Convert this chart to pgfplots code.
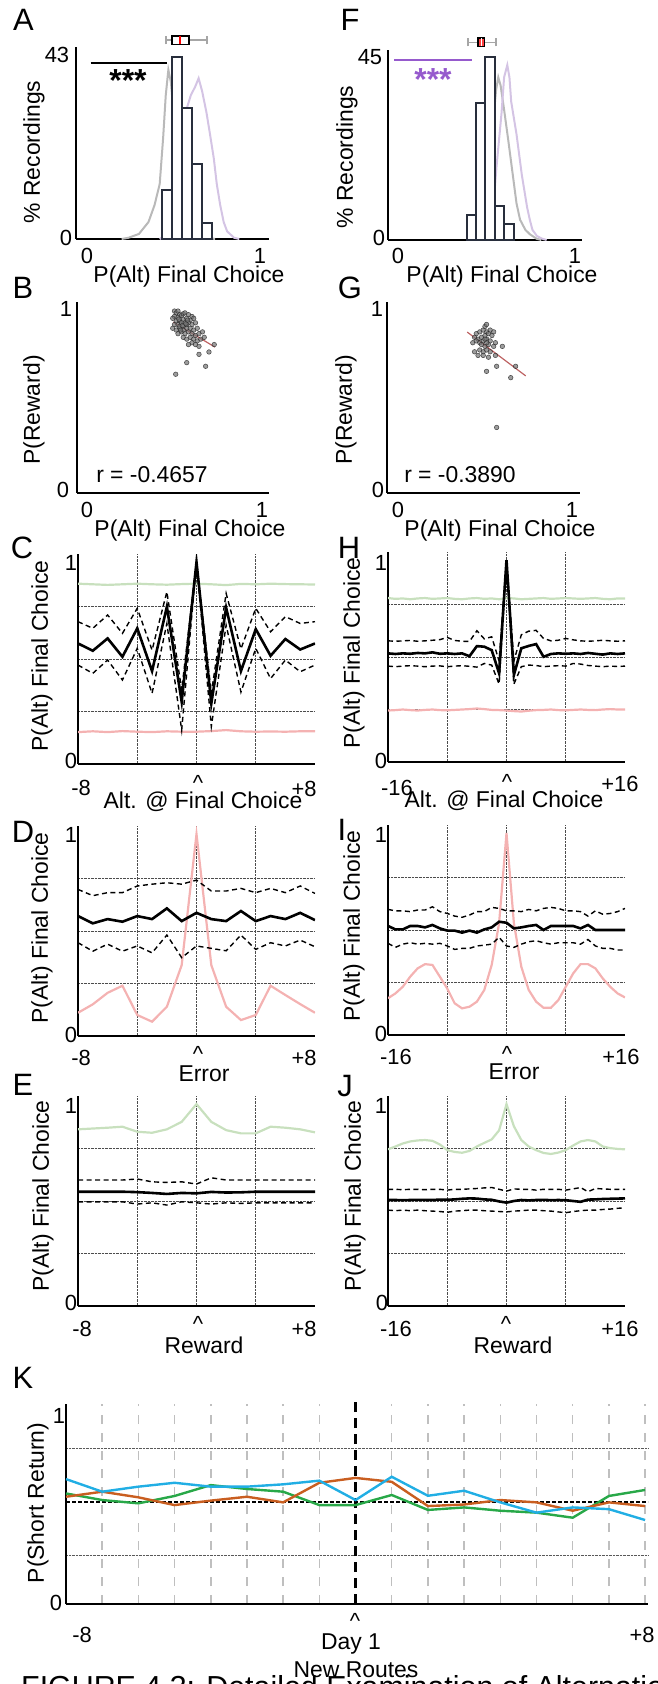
\documentclass[border=0pt]{standalone}
\usepackage{pgfplots}
\pgfplotsset{compat=1.18}
\usepgfplotslibrary{statistics}
\usepackage{fontspec}
\setmainfont{Liberation Sans}
\definecolor{baredge}{RGB}{40,46,60}
\definecolor{gcurve}{RGB}{185,185,185}
\definecolor{pcurve}{RGB}{212,196,228}
\definecolor{pstar}{RGB}{150,90,205}
\definecolor{ppink}{RGB}{244,178,178}
\definecolor{pgreen}{RGB}{200,224,190}
\definecolor{kblue}{RGB}{33,174,228}
\definecolor{korange}{RGB}{201,94,32}
\definecolor{kgreen}{RGB}{40,168,72}
\definecolor{regred}{RGB}{190,100,100}
\newcommand\tk{\fontsize{22}{24}\selectfont}
\newcommand\lb{\fontsize{23}{26}\selectfont}
\newcommand\pl{\fontsize{31}{34}\selectfont}
\pgfplotsset{
  panel/.style={scale only axis, anchor=south west, axis x line*=bottom, axis y line*=left,
    axis line style={line width=2.5bp, black}, major tick length=0pt,
    xticklabel={\relax}, yticklabel={\relax}},
  lineaxis/.style={panel, width=237bp, height=210bp, ymin=0, ymax=1.04,
    ytick={0.26,0.52,0.78}, grid=major,
    major grid style={black!70, densely dotted, line width=0.8bp}},
  dsh/.style={black, dash pattern=on 5bp off 3.5bp, line width=1.4bp},
  blk/.style={black, line width=2.6bp},
  pale/.style={line width=2.2bp},
  sc/.style={only marks, mark=*, mark size=2.3bp, mark options={fill=black!55, draw=black!85, fill opacity=0.7, draw opacity=0.8, line width=0.5bp}},
}
\begin{document}
\begin{tikzpicture}
\path[use as bounding box] (0,0) rectangle (658bp,-1684bp);

% ---------------- A ----------------
\begin{axis}[panel, at={(76bp,-239bp)}, width=193bp, height=192bp,
  xmin=-0.064, xmax=1.052, ymin=0, ymax=45.4, xtick=\empty, ytick=\empty, clip=false]
\addplot[gcurve, line width=2bp] coordinates {(0.20,0) (0.24,0.3) (0.30,1.2) (0.355,4) (0.39,8) (0.42,13) (0.44,24) (0.455,34) (0.47,40) (0.485,37) (0.50,30) (0.52,22) (0.54,15) (0.56,10) (0.58,6) (0.60,4) (0.63,2) (0.66,1) (0.70,0.3) (0.74,0)};
\addplot[pcurve, line width=2bp] coordinates {(0.42,0) (0.44,0.5) (0.48,3) (0.51,11) (0.54,21) (0.57,30) (0.60,34) (0.625,36) (0.645,38) (0.665,35) (0.69,30) (0.71,25) (0.733,19) (0.75,13) (0.77,8) (0.79,4) (0.81,1.8) (0.85,0.3) (0.88,0)};
\addplot[ybar interval, draw=baredge, fill=white, line width=2bp] coordinates {(0.435,11.6) (0.492,43) (0.549,31) (0.607,17.7) (0.664,3.8) (0.721,3.8)};
\addplot[black, line width=2bp] coordinates {(0.02,41.6) (0.46,41.6)};
\addplot[boxplot prepared={draw direction=x, draw position=47, lower whisker=0.457, lower quartile=0.49, median=0.54, upper quartile=0.59, upper whisker=0.694, box extend=2, whisker extend=2},
  boxplot/every box/.style={draw=black, fill=white, line width=1.8bp},
  boxplot/every whisker/.style={gray!70, line width=1.5bp},
  boxplot/every median/.style={red, line width=2bp}] coordinates {};
\end{axis}

% ---------------- F ----------------
\begin{axis}[panel, at={(388bp,-240bp)}, width=194bp, height=190bp,
  xmin=-0.056, xmax=1.04, ymin=0, ymax=46.7, xtick=\empty, ytick=\empty, clip=false]
\addplot[gcurve, line width=2bp] coordinates {(0.42,0) (0.444,0.5) (0.48,3) (0.50,8) (0.52,18) (0.54,30) (0.555,37) (0.567,40) (0.58,38) (0.60,32) (0.625,24) (0.652,15) (0.67,9) (0.69,5) (0.72,2.5) (0.746,1.4) (0.784,0.3) (0.81,0)};
\addplot[pcurve, line width=2bp] coordinates {(0.49,0) (0.51,0.5) (0.535,6) (0.557,18) (0.585,31) (0.60,40) (0.618,43) (0.63,40) (0.64,34) (0.655,30) (0.67,26) (0.685,21) (0.70,16) (0.715,12) (0.73,8) (0.745,5) (0.76,2.5) (0.785,1) (0.81,0.4) (0.84,0)};
\addplot[ybar interval, draw=baredge, fill=white, line width=2bp] coordinates {(0.388,6.1) (0.441,33.6) (0.494,45) (0.548,8.4) (0.601,3.9) (0.655,3.9)};
\addplot[pstar, line width=2bp] coordinates {(-0.02,44.2) (0.42,44.2)};
\addplot[boxplot prepared={draw direction=x, draw position=48.6, lower whisker=0.395, lower quartile=0.452, median=0.47, upper quartile=0.49, upper whisker=0.554, box extend=2, whisker extend=2},
  boxplot/every box/.style={draw=black, fill=red!75, line width=1.6bp},
  boxplot/every whisker/.style={gray!70, line width=1.5bp},
  boxplot/every median/.style={white, line width=0.8bp}] coordinates {};
\end{axis}

% ---------------- B ----------------
\begin{axis}[panel, at={(77bp,-493bp)}, width=192bp, height=191bp,
  xmin=-0.057, xmax=1.04, ymin=-0.02, ymax=1.035, xtick=\empty, ytick=\empty]
\addplot[sc] coordinates {(0.50,0.985) (0.51,0.975) (0.52,0.985) (0.53,0.965) (0.50,0.955) (0.49,0.945) (0.52,0.95) (0.54,0.96) (0.55,0.97) (0.56,0.975) (0.58,0.965) (0.60,0.955) (0.51,0.93) (0.53,0.93) (0.55,0.94) (0.57,0.945) (0.59,0.935) (0.61,0.945) (0.50,0.91) (0.52,0.91) (0.54,0.92) (0.56,0.92) (0.58,0.92) (0.60,0.91) (0.62,0.92) (0.49,0.89) (0.51,0.88) (0.53,0.89) (0.55,0.90) (0.57,0.89) (0.59,0.89) (0.61,0.88) (0.63,0.89) (0.52,0.86) (0.54,0.87) (0.56,0.86) (0.58,0.87) (0.60,0.86) (0.62,0.85) (0.64,0.86) (0.66,0.87) (0.55,0.84) (0.57,0.83) (0.59,0.84) (0.61,0.83) (0.63,0.82) (0.65,0.83) (0.67,0.84) (0.60,0.81) (0.62,0.80) (0.58,0.80) (0.64,0.79) (0.53,0.90) (0.57,0.91) (0.55,0.88) (0.535,0.88) (0.545,0.905) (0.565,0.915) (0.525,0.94) (0.575,0.935) (0.507,0.636) (0.57,0.70) (0.678,0.68) (0.64,0.746) (0.697,0.759) (0.727,0.80)};
\addplot[regred, line width=1.2bp] coordinates {(0.493,0.924) (0.731,0.786)};
\end{axis}

% ---------------- G ----------------
\begin{axis}[panel, at={(387bp,-493bp)}, width=193bp, height=191bp,
  xmin=-0.063, xmax=1.046, ymin=-0.02, ymax=1.035, xtick=\empty, ytick=\empty]
\addplot[sc] coordinates {(0.45,0.86) (0.47,0.87) (0.49,0.88) (0.51,0.87) (0.53,0.88) (0.55,0.87) (0.44,0.84) (0.46,0.83) (0.48,0.84) (0.50,0.85) (0.52,0.86) (0.54,0.85) (0.43,0.81) (0.45,0.82) (0.47,0.81) (0.49,0.82) (0.51,0.83) (0.53,0.82) (0.56,0.81) (0.48,0.80) (0.50,0.79) (0.52,0.80) (0.55,0.79) (0.60,0.79) (0.44,0.76) (0.47,0.77) (0.49,0.76) (0.51,0.77) (0.53,0.76) (0.46,0.74) (0.49,0.74) (0.52,0.73) (0.56,0.74) (0.50,0.90) (0.51,0.81) (0.50,0.83) (0.567,0.342) (0.648,0.617) (0.676,0.68) (0.509,0.652) (0.567,0.68) (0.509,0.911)};
\addplot[regred, line width=1.2bp] coordinates {(0.398,0.869) (0.734,0.627)};
\end{axis}

% ---------------- C ----------------
\begin{axis}[lineaxis, at={(78bp,-764bp)}, xmin=-8, xmax=8, xtick={-4,0,4}]
\addplot[pgreen, pale] coordinates {(-8,0.893) (-7,0.89) (-6,0.887) (-5,0.89) (-4,0.893) (-3,0.89) (-2,0.888) (-1,0.891) (0,0.893) (1,0.89) (2,0.886) (3,0.892) (4,0.89) (5,0.893) (6,0.891) (7,0.89) (8,0.889)};
\addplot[ppink, pale] coordinates {(-8,0.158) (-7,0.162) (-6,0.158) (-5,0.163) (-4,0.16) (-3,0.158) (-2,0.162) (-1,0.16) (0,0.16) (1,0.163) (2,0.168) (3,0.162) (4,0.16) (5,0.161) (6,0.16) (7,0.162) (8,0.162)};
\addplot[dsh] coordinates {(-8,0.705) (-7,0.672) (-6,0.738) (-5,0.647) (-4,0.771) (-3,0.564) (-2,0.853) (-1,0.366) (0,1) (1,0.35) (2,0.845) (3,0.57) (4,0.771) (5,0.655) (6,0.73) (7,0.696) (8,0.705)};
\addplot[dsh] coordinates {(-8,0.49) (-7,0.449) (-6,0.515) (-5,0.416) (-4,0.573) (-3,0.35) (-2,0.696) (-1,0.168) (0,1) (1,0.185) (2,0.688) (3,0.356) (4,0.573) (5,0.423) (6,0.515) (7,0.457) (8,0.49)};
\addplot[blk] coordinates {(-8,0.597) (-7,0.561) (-6,0.622) (-5,0.531) (-4,0.672) (-3,0.46) (-2,0.779) (-1,0.308) (0,1) (1,0.30) (2,0.774) (3,0.46) (4,0.668) (5,0.536) (6,0.619) (7,0.567) (8,0.597)};
\end{axis}

% ---------------- H ----------------
\begin{axis}[lineaxis, at={(388bp,-762bp)}, xmin=-16, xmax=16, xtick={-8,0,8}]
\addplot[pgreen, pale] coordinates {(-16,0.812) (-15,0.808) (-14,0.81) (-13,0.806) (-12,0.81) (-11,0.812) (-10,0.808) (-9,0.81) (-8,0.812) (-7,0.808) (-6,0.806) (-5,0.81) (-4,0.812) (-3,0.808) (-2,0.81) (-1,0.806) (0,0.812) (1,0.81) (2,0.806) (3,0.808) (4,0.81) (5,0.812) (6,0.808) (7,0.81) (8,0.812) (9,0.81) (10,0.808) (11,0.81) (12,0.812) (13,0.808) (14,0.806) (15,0.81) (16,0.81)};
\addplot[ppink, pale] coordinates {(-16,0.255) (-15,0.257) (-14,0.26) (-13,0.257) (-12,0.255) (-11,0.258) (-10,0.26) (-9,0.257) (-8,0.256) (-7,0.258) (-6,0.26) (-5,0.262) (-4,0.265) (-3,0.262) (-2,0.258) (-1,0.257) (0,0.255) (1,0.252) (2,0.25) (3,0.254) (4,0.257) (5,0.258) (6,0.26) (7,0.257) (8,0.256) (9,0.258) (10,0.26) (11,0.258) (12,0.257) (13,0.26) (14,0.262) (15,0.26) (16,0.26)};
\addplot[dsh] coordinates {(-16,0.6) (-15,0.598) (-14,0.6) (-13,0.602) (-12,0.598) (-11,0.6) (-10,0.603) (-9,0.606) (-8,0.617) (-7,0.602) (-6,0.598) (-5,0.597) (-4,0.65) (-3,0.61) (-2,0.62) (-1,0.5) (0,1) (1,0.5) (2,0.63) (3,0.648) (4,0.652) (5,0.612) (6,0.6) (7,0.603) (8,0.612) (9,0.605) (10,0.6) (11,0.598) (12,0.6) (13,0.603) (14,0.6) (15,0.598) (16,0.6)};
\addplot[dsh] coordinates {(-16,0.475) (-15,0.472) (-14,0.475) (-13,0.477) (-12,0.475) (-11,0.472) (-10,0.475) (-9,0.476) (-8,0.472) (-7,0.475) (-6,0.477) (-5,0.474) (-4,0.47) (-3,0.488) (-2,0.48) (-1,0.386) (0,1) (1,0.386) (2,0.472) (3,0.48) (4,0.478) (5,0.472) (6,0.475) (7,0.477) (8,0.475) (9,0.488) (10,0.485) (11,0.478) (12,0.475) (13,0.472) (14,0.475) (15,0.473) (16,0.475)};
\addplot[blk] coordinates {(-16,0.538) (-15,0.535) (-14,0.538) (-13,0.536) (-12,0.54) (-11,0.538) (-10,0.543) (-9,0.536) (-8,0.538) (-7,0.535) (-6,0.538) (-5,0.524) (-4,0.574) (-3,0.571) (-2,0.554) (-1,0.439) (0,1) (1,0.431) (2,0.563) (3,0.575) (4,0.584) (5,0.521) (6,0.535) (7,0.538) (8,0.536) (9,0.538) (10,0.535) (11,0.54) (12,0.536) (13,0.532) (14,0.538) (15,0.535) (16,0.538)};
\end{axis}

% ---------------- D ----------------
\begin{axis}[lineaxis, at={(78bp,-1036bp)}, xmin=-8, xmax=8, xtick={-4,0,4}]
\addplot[ppink, pale] coordinates {(-8,0.115) (-7,0.157) (-6,0.214) (-5,0.249) (-4,0.104) (-3,0.071) (-2,0.145) (-1,0.351) (0,1) (1,0.351) (2,0.145) (3,0.079) (4,0.104) (5,0.249) (6,0.203) (7,0.158) (8,0.115)};
\addplot[dsh] coordinates {(-8,0.726) (-7,0.695) (-6,0.71) (-5,0.71) (-4,0.743) (-3,0.752) (-2,0.759) (-1,0.752) (0,0.772) (1,0.718) (2,0.718) (3,0.731) (4,0.71) (5,0.731) (6,0.71) (7,0.743) (8,0.706)};
\addplot[dsh] coordinates {(-8,0.462) (-7,0.42) (-6,0.455) (-5,0.42) (-4,0.446) (-3,0.412) (-2,0.5) (-1,0.388) (0,0.446) (1,0.434) (2,0.422) (3,0.5) (4,0.429) (5,0.462) (6,0.446) (7,0.475) (8,0.442)};
\addplot[blk] coordinates {(-8,0.594) (-7,0.558) (-6,0.579) (-5,0.566) (-4,0.594) (-3,0.579) (-2,0.632) (-1,0.569) (0,0.61) (1,0.579) (2,0.569) (3,0.619) (4,0.569) (5,0.594) (6,0.579) (7,0.61) (8,0.574)};
\end{axis}

% ---------------- I ----------------
\begin{axis}[lineaxis, at={(388bp,-1035bp)}, xmin=-16, xmax=16, xtick={-8,0,8}]
\addplot[ppink, pale] coordinates {(-16,0.182) (-15,0.206) (-14,0.239) (-13,0.289) (-12,0.33) (-11,0.351) (-10,0.347) (-9,0.289) (-8,0.23) (-7,0.157) (-6,0.132) (-5,0.14) (-4,0.165) (-3,0.223) (-2,0.347) (-1,0.553) (0,1) (1,0.553) (2,0.338) (3,0.223) (4,0.165) (5,0.135) (6,0.135) (7,0.173) (8,0.239) (9,0.305) (10,0.351) (11,0.351) (12,0.33) (13,0.28) (14,0.239) (15,0.206) (16,0.186)};
\addplot[dsh] coordinates {(-16,0.622) (-15,0.615) (-14,0.615) (-13,0.611) (-12,0.619) (-11,0.619) (-10,0.635) (-9,0.611) (-8,0.602) (-7,0.589) (-6,0.583) (-5,0.594) (-4,0.611) (-3,0.611) (-2,0.632) (-1,0.627) (0,0.615) (1,0.615) (2,0.611) (3,0.622) (4,0.615) (5,0.627) (6,0.632) (7,0.627) (8,0.615) (9,0.615) (10,0.611) (11,0.589) (12,0.615) (13,0.598) (14,0.602) (15,0.611) (16,0.627)};
\addplot[dsh] coordinates {(-16,0.454) (-15,0.434) (-14,0.45) (-13,0.457) (-12,0.45) (-11,0.454) (-10,0.45) (-9,0.454) (-8,0.441) (-7,0.424) (-6,0.429) (-5,0.429) (-4,0.441) (-3,0.445) (-2,0.45) (-1,0.484) (0,0.441) (1,0.434) (2,0.45) (3,0.462) (4,0.467) (5,0.457) (6,0.45) (7,0.457) (8,0.457) (9,0.457) (10,0.45) (11,0.473) (12,0.441) (13,0.429) (14,0.429) (15,0.421) (16,0.421)};
\addplot[blk] coordinates {(-16,0.54) (-15,0.523) (-14,0.523) (-13,0.54) (-12,0.54) (-11,0.533) (-10,0.545) (-9,0.528) (-8,0.517) (-7,0.517) (-6,0.507) (-5,0.517) (-4,0.507) (-3,0.523) (-2,0.533) (-1,0.561) (0,0.556) (1,0.528) (2,0.533) (3,0.54) (4,0.545) (5,0.52) (6,0.54) (7,0.54) (8,0.54) (9,0.54) (10,0.528) (11,0.545) (12,0.52) (13,0.52) (14,0.52) (15,0.52) (16,0.52)};
\end{axis}

% ---------------- E ----------------
\begin{axis}[lineaxis, at={(78bp,-1306bp)}, xmin=-8, xmax=8, xtick={-4,0,4}]
\addplot[pgreen, pale] coordinates {(-8,0.875) (-7,0.879) (-6,0.883) (-5,0.888) (-4,0.863) (-3,0.858) (-2,0.875) (-1,0.912) (0,1) (1,0.912) (2,0.871) (3,0.855) (4,0.855) (5,0.888) (6,0.883) (7,0.875) (8,0.86)};
\addplot[dsh] coordinates {(-8,0.624) (-7,0.624) (-6,0.624) (-5,0.624) (-4,0.629) (-3,0.615) (-2,0.612) (-1,0.615) (0,0.604) (1,0.635) (2,0.624) (3,0.624) (4,0.624) (5,0.624) (6,0.624) (7,0.624) (8,0.624)};
\addplot[dsh] coordinates {(-8,0.516) (-7,0.516) (-6,0.516) (-5,0.516) (-4,0.505) (-3,0.511) (-2,0.5) (-1,0.516) (0,0.511) (1,0.505) (2,0.511) (3,0.508) (4,0.511) (5,0.511) (6,0.511) (7,0.511) (8,0.511)};
\addplot[blk] coordinates {(-8,0.566) (-7,0.566) (-6,0.566) (-5,0.566) (-4,0.564) (-3,0.56) (-2,0.555) (-1,0.56) (0,0.558) (1,0.565) (2,0.562) (3,0.563) (4,0.566) (5,0.566) (6,0.566) (7,0.566) (8,0.566)};
\end{axis}

% ---------------- J ----------------
\begin{axis}[lineaxis, at={(388bp,-1306bp)}, xmin=-16, xmax=16, xtick={-8,0,8}]
\addplot[pgreen, pale] coordinates {(-16,0.776) (-15,0.79) (-14,0.805) (-13,0.815) (-12,0.82) (-11,0.822) (-10,0.818) (-9,0.80) (-8,0.772) (-7,0.763) (-6,0.759) (-5,0.768) (-4,0.79) (-3,0.808) (-2,0.825) (-1,0.87) (0,1) (1,0.89) (2,0.822) (3,0.79) (4,0.772) (5,0.758) (6,0.753) (7,0.76) (8,0.772) (9,0.795) (10,0.815) (11,0.822) (12,0.815) (13,0.79) (14,0.782) (15,0.778) (16,0.776)};
\addplot[dsh] coordinates {(-16,0.578) (-15,0.578) (-14,0.576) (-13,0.578) (-12,0.578) (-11,0.576) (-10,0.578) (-9,0.578) (-8,0.574) (-7,0.578) (-6,0.578) (-5,0.58) (-4,0.582) (-3,0.585) (-2,0.587) (-1,0.578) (0,0.569) (1,0.58) (2,0.578) (3,0.578) (4,0.574) (5,0.578) (6,0.578) (7,0.578) (8,0.574) (9,0.58) (10,0.587) (11,0.566) (12,0.582) (13,0.58) (14,0.578) (15,0.578) (16,0.578)};
\addplot[dsh] coordinates {(-16,0.475) (-15,0.472) (-14,0.475) (-13,0.472) (-12,0.475) (-11,0.472) (-10,0.47) (-9,0.468) (-8,0.464) (-7,0.47) (-6,0.472) (-5,0.475) (-4,0.475) (-3,0.472) (-2,0.47) (-1,0.468) (0,0.466) (1,0.47) (2,0.472) (3,0.475) (4,0.475) (5,0.472) (6,0.47) (7,0.466) (8,0.462) (9,0.468) (10,0.472) (11,0.475) (12,0.475) (13,0.478) (14,0.48) (15,0.484) (16,0.486)};
\addplot[blk] coordinates {(-16,0.525) (-15,0.525) (-14,0.524) (-13,0.525) (-12,0.526) (-11,0.525) (-10,0.525) (-9,0.527) (-8,0.526) (-7,0.528) (-6,0.531) (-5,0.533) (-4,0.532) (-3,0.528) (-2,0.526) (-1,0.518) (0,0.512) (1,0.52) (2,0.525) (3,0.523) (4,0.525) (5,0.526) (6,0.524) (7,0.525) (8,0.524) (9,0.52) (10,0.516) (11,0.527) (12,0.528) (13,0.53) (14,0.531) (15,0.532) (16,0.533)};
\end{axis}

% ---------------- K ----------------
\begin{axis}[panel, at={(66bp,-1604bp)}, width=582bp, height=200bp,
  xmin=-8, xmax=8.08, ymin=0, ymax=1.031, clip=false,
  xtick={-7,-6,-5,-4,-3,-2,-1,1,2,3,4,5,6,7,8}, ytick={0.25,0.8}, grid=major,
  x grid style={gray!50, dash pattern=on 9bp off 9bp, line width=1.5bp},
  y grid style={black!65, densely dotted, line width=0.8bp}]
\addplot[black, dash pattern=on 10bp off 6bp, line width=2.2bp] coordinates {(0,0) (0,1.06)};
\addplot[black, dash pattern=on 3.5bp off 2.5bp, line width=1.2bp] coordinates {(-8,0.526) (8.08,0.526)};
\addplot[kgreen, line width=2.4bp] coordinates {(-8,0.57) (-7,0.536) (-6,0.519) (-5,0.557) (-4,0.613) (-3,0.593) (-2,0.579) (-1,0.51) (0,0.51) (1,0.562) (2,0.485) (3,0.498) (4,0.481) (5,0.471) (6,0.445) (7,0.557) (8,0.588)};
\addplot[korange, line width=2.4bp] coordinates {(-8,0.553) (-7,0.579) (-6,0.55) (-5,0.51) (-4,0.533) (-3,0.553) (-2,0.524) (-1,0.625) (0,0.65) (1,0.63) (2,0.505) (3,0.513) (4,0.536) (5,0.524) (6,0.481) (7,0.524) (8,0.505)};
\addplot[kblue, line width=2.4bp] coordinates {(-8,0.644) (-7,0.579) (-6,0.605) (-5,0.625) (-4,0.605) (-3,0.605) (-2,0.617) (-1,0.636) (0,0.536) (1,0.656) (2,0.558) (3,0.584) (4,0.524) (5,0.471) (6,0.498) (7,0.489) (8,0.433)};
\end{axis}

% ---------------- text ----------------
\begin{scope}[x=1bp, y=-1bp, every node/.style={inner sep=0pt}]
\tikzset{tkn/.style={anchor=base, font=\tk}, lbn/.style={anchor=base, font=\lb},
  yln/.style={anchor=center, rotate=90, font=\lb}, pln/.style={anchor=base, font=\pl}}
% panel letters
\node[pln] at (23.5,30) {A}; \node[pln] at (350,30) {F};
\node[pln] at (23,298) {B}; \node[pln] at (350,298) {G};
\node[pln] at (22,558) {C}; \node[pln] at (349,558) {H};
\node[pln] at (23,842) {D}; \node[pln] at (342,840) {I};
\node[pln] at (23,1095) {E}; \node[pln] at (345,1096) {J};
\node[pln] at (23,1388) {K};
% A
\node[tkn] at (57,62) {43}; \node[tkn] at (66,245) {0};
\node[tkn] at (87,263) {0}; \node[tkn] at (260,263) {1};
\node[lbn] at (189,282) {P(Alt) Final Choice};
\node[yln] at (34,152) {\% Recordings};
\node[anchor=base, font=\fontsize{32}{34}\selectfont\bfseries] at (128,91) {***};
% F
\node[tkn] at (370,64) {45}; \node[tkn] at (379,245) {0};
\node[tkn] at (398,263) {0}; \node[tkn] at (575,263) {1};
\node[lbn] at (502,282) {P(Alt) Final Choice};
\node[yln] at (347,157) {\% Recordings};
\node[anchor=base, font=\fontsize{32}{34}\selectfont\bfseries, text=pstar] at (433,90) {***};
% B
\node[tkn] at (66,316) {1}; \node[tkn] at (63,497) {0};
\node[tkn] at (87,517) {0}; \node[tkn] at (262,517) {1};
\node[lbn] at (190,536) {P(Alt) Final Choice};
\node[yln] at (34,410) {P(Reward)};
\node[lbn] at (152,482) {r = -0.4657};
% G
\node[tkn] at (377,316) {1}; \node[tkn] at (378,497) {0};
\node[tkn] at (398,517) {0}; \node[tkn] at (572,517) {1};
\node[lbn] at (500,536) {P(Alt) Final Choice};
\node[yln] at (346,410) {P(Reward)};
\node[lbn] at (460,482) {r = -0.3890};
% C
\node[tkn] at (71,570) {1}; \node[tkn] at (71,768) {0};
\node[tkn] at (81,795) {-8}; \node[tkn] at (198,790) {\char`\^}; \node[tkn] at (304,796) {+8};
\node[lbn] at (203,808) {Alt. @ Final Choice};
\node[yln] at (42,656) {P(Alt) Final Choice};
% H
\node[tkn] at (381,570) {1}; \node[tkn] at (381,768) {0};
\node[tkn] at (397,795) {-16}; \node[tkn] at (507,789) {\char`\^}; \node[tkn] at (620,791) {+16};
\node[lbn] at (504,807) {Alt. @ Final Choice};
\node[yln] at (354,653) {P(Alt) Final Choice};
% D
\node[tkn] at (71,842) {1}; \node[tkn] at (71,1042) {0};
\node[tkn] at (81,1065) {-8}; \node[tkn] at (198,1061) {\char`\^}; \node[tkn] at (304,1065) {+8};
\node[lbn] at (204,1081) {Error};
\node[yln] at (42,928) {P(Alt) Final Choice};
% I
\node[tkn] at (381,842) {1}; \node[tkn] at (381,1041) {0};
\node[tkn] at (396,1064) {-16}; \node[tkn] at (507,1061) {\char`\^}; \node[tkn] at (621,1064) {+16};
\node[lbn] at (514,1079) {Error};
\node[yln] at (354,926) {P(Alt) Final Choice};
% E
\node[tkn] at (71,1113) {1}; \node[tkn] at (71,1310) {0};
\node[tkn] at (82,1336) {-8}; \node[tkn] at (198,1331) {\char`\^}; \node[tkn] at (304,1336) {+8};
\node[lbn] at (204,1353) {Reward};
\node[yln] at (43,1196) {P(Alt) Final Choice};
% J
\node[tkn] at (381,1113) {1}; \node[tkn] at (382,1310) {0};
\node[tkn] at (396,1336) {-16}; \node[tkn] at (506,1331) {\char`\^}; \node[tkn] at (620,1336) {+16};
\node[lbn] at (513,1353) {Reward};
\node[yln] at (355,1196) {P(Alt) Final Choice};
% K
\node[tkn] at (59,1423) {1}; \node[tkn] at (56,1610) {0};
\node[tkn] at (82,1642) {-8}; \node[tkn] at (355,1628) {\char`\^}; \node[tkn] at (642,1642) {+8};
\node[lbn] at (351,1649) {Day 1};
\node[lbn] at (356,1677) {New Routes};
\node[yln] at (38,1503) {P(Short Return)};
% caption
\node[anchor=base west, font=\fontsize{30.5}{33}\selectfont] at (21,1697) {FIGURE 4.3: Detailed Examination of Alternation};
\end{scope}
\end{tikzpicture}
\end{document}
